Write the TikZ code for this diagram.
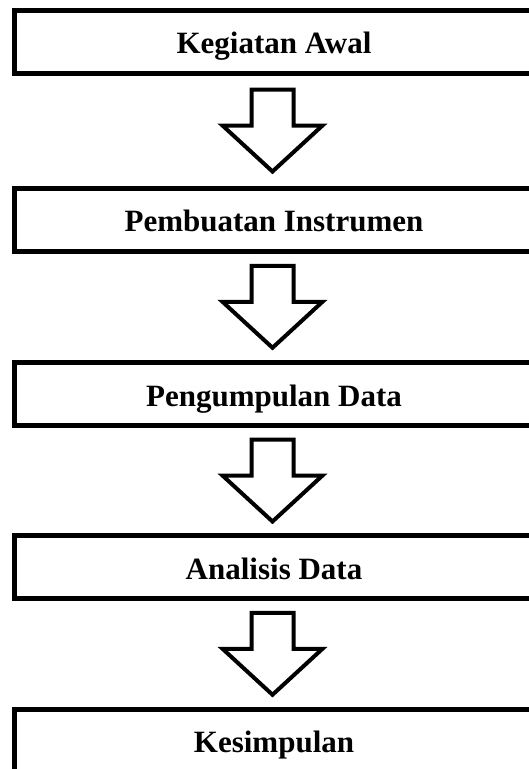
\documentclass[tikz,border=0pt]{standalone}
\usepackage{fontspec}
\setmainfont{Liberation Serif}
\usetikzlibrary{calc}
\begin{document}
\begin{tikzpicture}[x=1pt,y=-1pt,
  kotak/.style={draw,line width=5pt,minimum width=519pt,minimum height=63pt,inner sep=0pt,
    text height=26pt,text depth=2pt,font=\fontsize{31}{37}\selectfont\bfseries},
  panah/.style={draw,line width=4pt,line join=miter,fill=white}]
\useasboundingbox (0,0) rectangle (529,769);
\clip (0,0) rectangle (529,769);
\def\xK{274};
\node[kotak] (awal) at (\xK,41.5) {Kegiatan Awal};
\node[kotak] (instrumen) at (\xK,219.5) {Pembuatan Instrumen};
\node[kotak] (data) at (\xK,394) {Pengumpulan Data};
\node[kotak] (analisis) at (\xK,567) {Analisis Data};
\node[kotak] (simpulan) at (\xK,740.5) {Kesimpulan};
\foreach \a/\b in {awal/instrumen,instrumen/data,data/analisis,analisis/simpulan}{
  \coordinate (m) at ($(\a.south)!0.5!(\b.north)+(-1.5,0)$);
  \draw[panah] ($(m)+(-21,-41)$) -- ($(m)+(21,-41)$) -- ($(m)+(21,-5)$) -- ($(m)+(50,-5)$)
    -- ($(m)+(0,41)$) -- ($(m)+(-50,-5)$) -- ($(m)+(-21,-5)$) -- cycle;
}
\end{tikzpicture}
\end{document}
